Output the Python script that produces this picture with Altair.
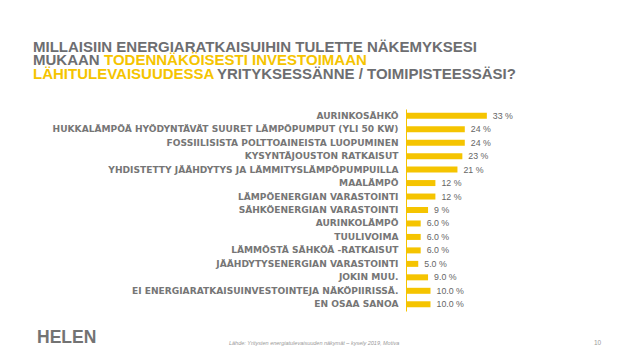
import altair as alt
import pandas as pd

categories = [
    "AURINKOSÄHKÖ",
    "HUKKALÄMPÖÄ HYÖDYNTÄVÄT SUURET LÄMPÖPUMPUT (YLI 50 KW)",
    "FOSSIILISISTA POLTTOAINEISTA LUOPUMINEN",
    "KYSYNTÄJOUSTON RATKAISUT",
    "YHDISTETTY JÄÄHDYTYS JA LÄMMITYSLÄMPÖPUMPUILLA",
    "MAALÄMPÖ",
    "LÄMPÖENERGIAN VARASTOINTI",
    "SÄHKÖENERGIAN VARASTOINTI",
    "AURINKOLÄMPÖ",
    "TUULIVOIMA",
    "LÄMMÖSTÄ SÄHKÖÄ -RATKAISUT",
    "JÄÄHDYTYSENERGIAN VARASTOINTI",
    "JOKIN MUU.",
    "EI ENERGIARATKAISUINVESTOINTEJA NÄKÖPIIRISSÄ.",
    "EN OSAA SANOA",
]
values = [33, 24, 24, 23, 21, 12, 12, 9, 6, 6, 6, 5, 9, 10, 10]
value_labels = ["33 %", "24 %", "24 %", "23 %", "21 %", "12 %", "12 %", "9 %",
                "6.0 %", "6.0 %", "6.0 %", "5.0 %", "9.0 %", "10.0 %", "10.0 %"]

title_line1 = "MILLAISIIN ENERGIARATKAISUIHIN TULETTE NÄKEMYKSESI"
title_line2_gray = "MUKAAN"
title_line2_yellow = "TODENNÄKÖISESTI INVESTOIMAAN"
title_line3_yellow = "LÄHITULEVAISUUDESSA"
title_line3_gray = "YRITYKSESSÄNNE / TOIMIPISTEESSÄSI?"
logo_text = "HELEN"
source_text = "Lähde: Yritysten energiatulevaisuuden näkymät – kysely 2019, Motiva"
page_number = "10"

GRAY = "#6d6e71"
YELLOW = "#f5c400"
LABEL_GRAY = "#767676"

df = pd.DataFrame({"cat": categories, "val": values, "lab": value_labels})

y_enc = alt.Y(
    "cat:N",
    sort=categories,
    scale=alt.Scale(paddingInner=0, paddingOuter=0),
    axis=alt.Axis(
        title=None,
        ticks=False,
        domain=True,
        domainColor=YELLOW,
        domainWidth=1,
        labelFont="DejaVu Sans",
        labelFontWeight="bold",
        labelFontSize=9.1,
        labelColor=LABEL_GRAY,
        labelPadding=8,
        labelLimit=0,
        grid=False,
    ),
)
x_enc = alt.X("val:Q", scale=alt.Scale(domain=[0, 40]), axis=None)

bars = alt.Chart(df).mark_bar(size=6, color=YELLOW).encode(x=x_enc, y=y_enc)
labels = alt.Chart(df).mark_text(
    align="left", baseline="middle", dx=6, font="Liberation Sans",
    fontSize=8.8, color="#666666"
).encode(x=x_enc, y=y_enc, text="lab:N")

# plot origin on page: x = 406, y = 109
OX, OY = 406, 109


def txt(s, px, py, color, size, weight="bold", font="Liberation Sans", style="normal", align="left"):
    return alt.Chart(pd.DataFrame({"t": [s]})).mark_text(
        align=align, baseline="alphabetic", font=font, fontSize=size,
        fontWeight=weight, fontStyle=style, color=color
    ).encode(text="t:N", x=alt.value(px - OX), y=alt.value(py - OY))


TS = 15
title_layers = [
    txt(title_line1, 33, 51.5, GRAY, TS),
    txt(title_line2_gray, 33, 65, GRAY, TS),
    txt(title_line2_yellow, 104, 65, YELLOW, TS),
    txt(title_line3_yellow, 33, 78.5, YELLOW, TS),
    txt(title_line3_gray, 217, 78.5, GRAY, TS),
    txt(logo_text, 37, 343, "#737373", 17.5),
    txt(source_text, 229, 345, "#9a9a9a", 5.5, weight="normal", style="italic"),
    txt(page_number, 594, 345, "#9a9a9a", 6.5, weight="normal"),
]

chart = alt.layer(bars, labels, *title_layers).properties(
    width=98,
    height=202,
    autosize=alt.AutoSizeParams(type="none"),
    padding={"left": 398, "top": 101, "right": 126, "bottom": 40},
    background="white",
).configure_view(stroke=None)

chart.save("out.html", embed_options={"renderer": "svg", "actions": False})
